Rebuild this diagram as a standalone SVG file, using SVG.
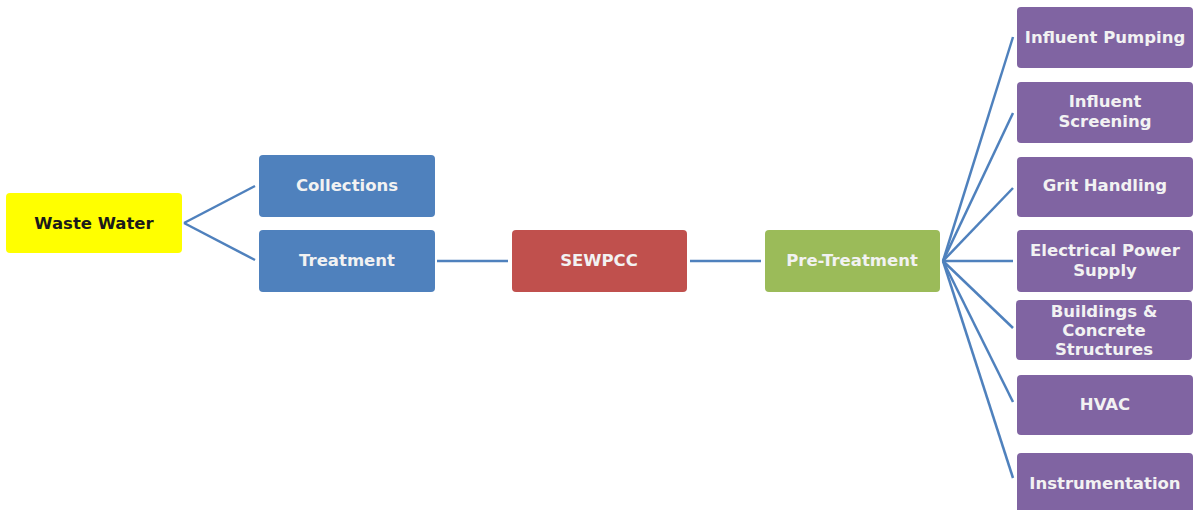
<svg xmlns="http://www.w3.org/2000/svg" width="1194" height="510" viewBox="0 0 1194 510">
<style>
.t{font-family:"DejaVu Sans","Open Sans",sans-serif;font-size:16.5px;font-weight:bold;fill:#F2F2F2;text-anchor:middle;dominant-baseline:central}
.k{fill:#1a1a1a}
.c{stroke:#4F81BD;stroke-width:2.5;fill:none}
</style>
<rect width="1194" height="510" fill="#fff"/>
<g id="connectors">
<line class="c" x1="184" y1="223" x2="255" y2="186"/>
<line class="c" x1="184" y1="223" x2="255" y2="260"/>
<line class="c" x1="437" y1="261" x2="508" y2="261"/>
<line class="c" x1="690" y1="261" x2="761" y2="261"/>
<line class="c" x1="943" y1="261" x2="1013" y2="37"/>
<line class="c" x1="943" y1="261" x2="1013" y2="113"/>
<line class="c" x1="943" y1="261" x2="1013" y2="188"/>
<line class="c" x1="943" y1="261" x2="1013" y2="261"/>
<line class="c" x1="943" y1="261" x2="1013" y2="328"/>
<line class="c" x1="943" y1="261" x2="1013" y2="402"/>
<line class="c" x1="943" y1="261" x2="1013" y2="478"/>
</g>
<g id="waste-water"><rect x="6" y="193" width="176" height="60" rx="4" fill="#FFFF00"/><text class="t k" x="94" y="223">Waste Water</text></g>
<g id="collections"><rect x="259" y="155" width="176" height="62" rx="4" fill="#4F81BD"/><text class="t" x="347" y="185">Collections</text></g>
<g id="treatment"><rect x="259" y="230" width="176" height="62" rx="4" fill="#4F81BD"/><text class="t" x="347" y="260">Treatment</text></g>
<g id="sewpcc"><rect x="512" y="230" width="175" height="62" rx="4" fill="#C0504D"/><text class="t" x="599" y="260">SEWPCC</text></g>
<g id="pre-treatment"><rect x="765" y="230" width="175" height="62" rx="4" fill="#9BBB59"/><text class="t" x="852" y="260">Pre-Treatment</text></g>
<g id="influent-pumping"><rect x="1017" y="7" width="176" height="61" rx="4" fill="#8064A2"/><text class="t" x="1105" y="37">Influent Pumping</text></g>
<g id="influent-screening"><rect x="1017" y="82" width="176" height="61" rx="4" fill="#8064A2"/><text class="t" x="1105" y="101">Influent</text><text class="t" x="1105" y="121">Screening</text></g>
<g id="grit-handling"><rect x="1017" y="157" width="176" height="60" rx="4" fill="#8064A2"/><text class="t" x="1105" y="185">Grit Handling</text></g>
<g id="electrical-power-supply"><rect x="1017" y="230" width="176" height="62" rx="4" fill="#8064A2"/><text class="t" x="1105" y="250">Electrical Power</text><text class="t" x="1105" y="270">Supply</text></g>
<g id="buildings"><rect x="1016" y="300" width="176" height="60" rx="4" fill="#8064A2"/><text class="t" x="1104" y="311">Buildings &amp;</text><text class="t" x="1104" y="330">Concrete</text><text class="t" x="1104" y="349">Structures</text></g>
<g id="hvac"><rect x="1017" y="375" width="176" height="60" rx="4" fill="#8064A2"/><text class="t" x="1105" y="404">HVAC</text></g>
<g id="instrumentation"><rect x="1017" y="453" width="176" height="62" rx="4" fill="#8064A2"/><text class="t" x="1105" y="483">Instrumentation</text></g>
</svg>
